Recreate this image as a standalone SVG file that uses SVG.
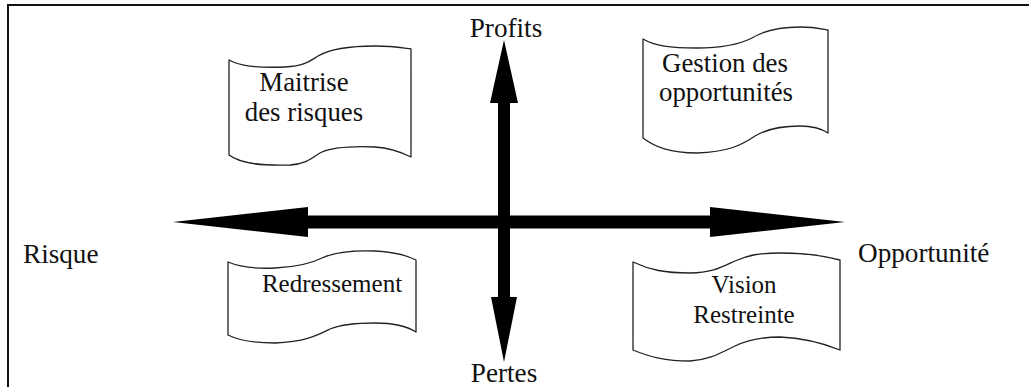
<svg xmlns="http://www.w3.org/2000/svg" width="1029" height="387" viewBox="0 0 1029 387">
  <style>
    .frame { fill: none; stroke: #111; stroke-width: 2; }
    .banner { fill: #fff; stroke: #222; stroke-width: 1.3; stroke-linejoin: round; }
    .arrow { fill: #000; stroke: none; }
    .lbl { font-size: 26.8px; fill: #111; }
    .axis { font-size: 27.2px; }
    .mid { text-anchor: middle; }
    .sm { font-size: 25px; }
  </style>

  <rect width="1029" height="387" fill="#fff"/>
  <!-- open frame: top and left rules only -->
  <path class="frame" d="M8,387 L8,5 L1029,5"/>

  <!-- axes: horizontal and vertical double arrows -->
  <g id="connectors">
    <path class="arrow" d="M173,222 L308,207 L308,215.5 L710,215.5 L710,207 L845,222 L710,237 L710,228.5 L308,228.5 L308,237 Z"/>
    <path class="arrow" d="M504,40 L518,103 L510,103 L510,297 L517,297 L504,362 L491,297 L498,297 L498,103 L490,103 Z"/>
  </g>

  <g font-family="'Liberation Serif', 'DejaVu Serif', serif">
    <!-- axis labels -->
    <g id="profits"><text class="lbl axis mid" x="506" y="37">Profits</text></g>
    <g id="pertes"><text class="lbl axis mid" x="504" y="382">Pertes</text></g>
    <g id="risque"><text class="lbl axis" x="23" y="263">Risque</text></g>
    <g id="opportunite"><text class="lbl axis" x="858" y="262">Opportunité</text></g>

    <!-- quadrant banners -->
    <g id="maitrise">
      <path class="banner" d="M229,60 C240,66 255,68 285,67 C305,66 310,61 318,56 C330,49 350,46 375,46 C392,46 403,48 411,49 L411,157 C403,153 392,148 375,147 C350,146 332,147 320,153 C312,158 306,164 290,165 C258,166 240,163 229,155 Z"/>
      <text class="lbl mid" x="304" y="91">Maitrise</text>
      <text class="lbl mid" x="304" y="121">des risques</text>
    </g>

    <g id="gestion">
      <path class="banner" d="M643,39 C655,46 670,48 697,48 C725,48 740,44 752,38 C765,30 780,27 800,27 C815,27 822,29 828,30 L828,133 C822,129 815,126 800,126 C780,126 765,130 755,136 C742,145 728,152 697,153 C670,153 655,147 643,138 Z"/>
      <text class="lbl mid" x="725" y="72">Gestion des</text>
      <text class="lbl mid" x="726" y="101">opportunités</text>
    </g>

    <g id="redressement">
      <path class="banner" d="M228,262 C240,267 255,269 275,268 C300,267 312,263 322,258 C335,252 350,250 375,251 C395,252 408,256 416,260 L416,332 C408,327 395,323 375,323 C355,323 340,325 330,329 C318,335 305,342 275,343 C255,343 240,341 228,335 Z"/>
      <text class="lbl mid sm" x="332" y="292">Redressement</text>
    </g>

    <g id="vision">
      <path class="banner" d="M633,262 C650,270 665,273 690,273 C712,273 722,267 735,261 C748,255 760,253 780,253 C805,253 825,256 840,260 L840,350 C825,344 805,338 780,337 C760,337 748,340 735,346 C722,352 710,360 690,361 C665,361 650,357 633,350 Z"/>
      <text class="lbl mid sm" x="744" y="293">Vision</text>
      <text class="lbl mid sm" x="744" y="323">Restreinte</text>
    </g>
  </g>
</svg>
